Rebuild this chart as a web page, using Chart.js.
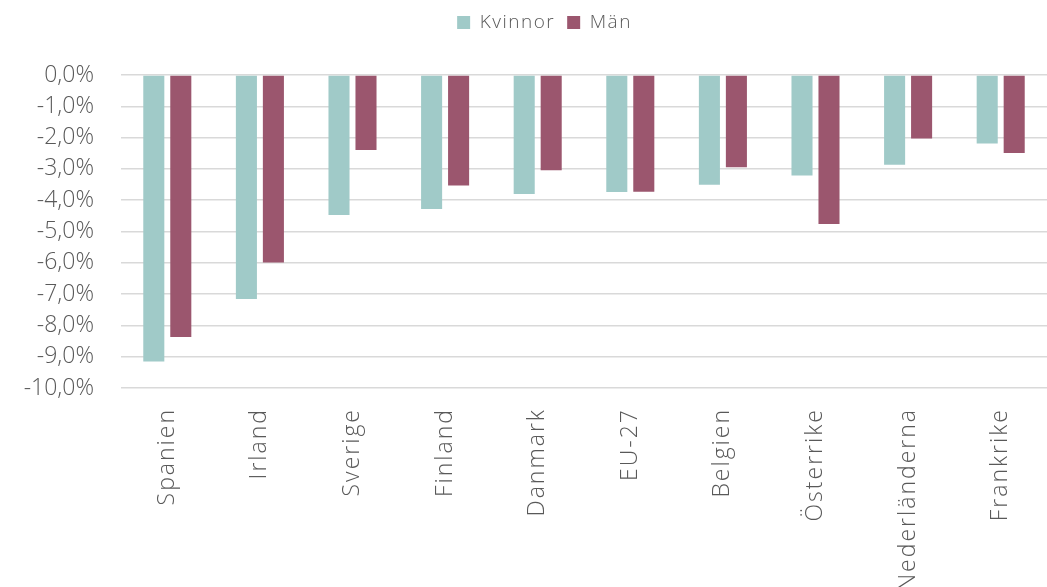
<!DOCTYPE html>
<html>
<head>
<meta charset="utf-8">
<script src="https://cdn.jsdelivr.net/npm/chart.js@4"></script>
<style>
  html, body { margin: 0; padding: 0; background: #fff; overflow: hidden; }
  #wrap { width: 1047px; height: 587px; position: relative; }
</style>
</head>
<body>
<div id="wrap"><canvas id="chart"></canvas></div>
<script>
// --- Data ---
const categories = ['Spanien', 'Irland', 'Sverige', 'Finland', 'Danmark', 'EU-27', 'Belgien', 'Österrike', 'Nederländerna', 'Frankrike'];
const kvinnor = [-9.15, -7.16, -4.47, -4.28, -3.80, -3.74, -3.51, -3.21, -2.87, -2.19];
const man = [-8.37, -5.99, -2.40, -3.53, -3.04, -3.73, -2.95, -4.76, -2.03, -2.49];
const seriesNames = ['Kvinnor', 'Män'];
const yTicks = [0, -1, -2, -3, -4, -5, -6, -7, -8, -9, -10];

const textColor = '#595959';
const fontFamily = "'Open Sans', Lato, sans-serif";

function fmtPct(v) {
    if (v === 0) return '0,0%';
    return v.toFixed(1).replace('.', ',') + '%';
}

// run fn with some letter spacing on the canvas (the original font is wider)
function spaced(ctx, px, fn) {
    const old = ctx.letterSpacing;
    ctx.letterSpacing = px;
    try { return fn(); } finally { ctx.letterSpacing = old; }
}

// extra room under the legend, legend sits a bit right of centre, wider text
const legendTweaks = {
    id: 'legendTweaks',
    afterInit(chart) {
        const lg = chart.legend;
        const fit = lg.fit, draw = lg.draw;
        lg.fit = function() {
            spaced(chart.ctx, '1.5px', () => fit.call(this));
            this.height += 34;
        };
        lg.draw = function() {
            const c = chart.ctx;
            c.save();
            c.translate(21, 1);
            spaced(c, '1.5px', () => draw.call(this));
            c.restore();
        };
    },
    afterUpdate(chart) {
        const xs = chart.scales.x;
        if (xs._spaced) return;
        const dl = xs.drawLabels;
        xs.drawLabels = function(area) {
            spaced(chart.ctx, '2px', () => dl.call(this, area));
        };
        xs._spaced = true;
    }
};

const ctx = document.getElementById('chart').getContext('2d');
new Chart(ctx, {
    type: 'bar',
    data: {
        labels: categories,
        datasets: [
            {
                label: seriesNames[0],
                data: kvinnor,
                backgroundColor: '#A0CAC8',
                borderWidth: 0
            },
            {
                label: seriesNames[1],
                data: man,
                backgroundColor: '#9B566E',
                borderWidth: 0
            }
        ]
    },
    plugins: [legendTweaks],
    options: {
        responsive: true,
        maintainAspectRatio: false,
        animation: false,
        datasets: {
            bar: { categoryPercentage: 0.583, barPercentage: 0.78 }
        },
        layout: { padding: { top: 0, right: 0, left: 0, bottom: 0 } },
        plugins: {
            legend: {
                position: 'top',
                align: 'center',
                labels: {
                    color: textColor,
                    font: { family: fontFamily, size: 19, weight: 300 },
                    boxWidth: 13,
                    boxHeight: 13,
                    padding: 12
                }
            },
            tooltip: { enabled: false }
        },
        scales: {
            x: {
                grid: { display: false },
                border: { display: false },
                ticks: {
                    color: textColor,
                    font: { family: fontFamily, size: 23, weight: 300 },
                    minRotation: 90,
                    maxRotation: 90,
                    autoSkip: false,
                    padding: 12
                },
                afterFit: function(scale) { scale.height = 199; }
            },
            y: {
                min: -10,
                max: 0,
                afterBuildTicks: function(scale) {
                    scale.ticks = yTicks.map(v => ({ value: v }));
                },
                grid: { color: '#d9d9d9', lineWidth: 1.5, drawTicks: false },
                border: { display: false },
                ticks: {
                    color: textColor,
                    font: { family: fontFamily, size: 23, weight: 300 },
                    padding: 27,
                    callback: function(v) { return fmtPct(v); }
                },
                afterFit: function(scale) { scale.width = 121; }
            }
        }
    }
});
</script>
</body>
</html>
